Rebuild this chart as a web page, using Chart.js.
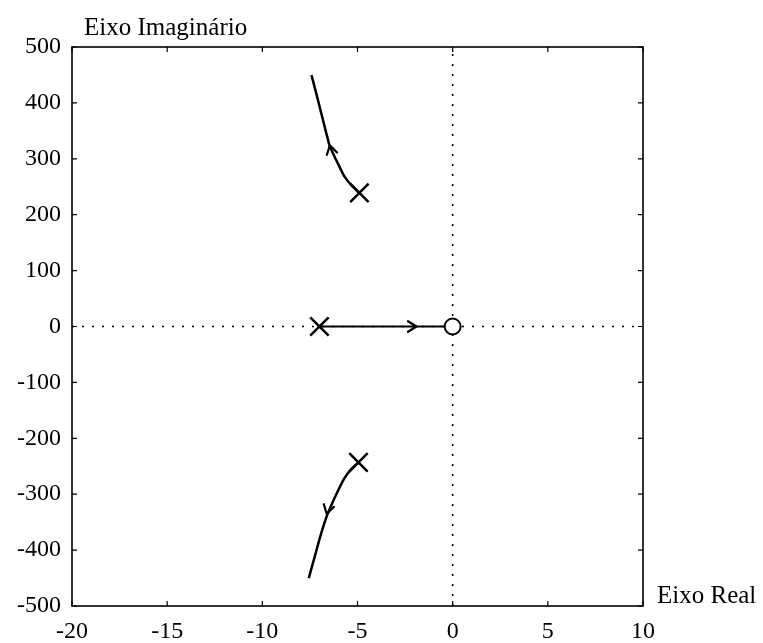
<!DOCTYPE html>
<html>
<head>
<meta charset="utf-8">
<script src="https://cdn.jsdelivr.net/npm/chart.js@4.4.0/dist/chart.umd.min.js"></script>
<style>
html,body{margin:0;padding:0;background:#fff;}
canvas{display:block;}
</style>
</head>
<body>
<canvas id="c" width="763" height="643"></canvas>
<script>
// ---- data ----
const xRange = [-20, 10];
const yRange = [-500, 500];
const xStep = 5;
const yStep = 100;

const upperX = [-4.9, -5.33, -5.68, -5.95, -6.21, -6.47, -6.78, -7.1, -7.42];
const upperY = [239, 253, 268, 286, 304, 324, 365, 408, 450];
const lowerX = [-4.95, -5.35, -5.7, -6.0, -6.3, -6.6, -6.95, -7.25, -7.56];
const lowerY = [-243, -256, -272, -292, -314, -338, -375, -412, -450];
const realX = [-7.0, 0];
const realY = [0, 0];
const polesX = [-4.9, -4.95, -7.0];
const polesY = [239, -243, 0];
const zerosX = [0];
const zerosY = [0];
// arrow heads: tip point and a point further along the direction
const arrowTipX = [-6.45, -6.62, -1.9];
const arrowTipY = [324, -335, 0];
const arrowDirX = [-6.6, -6.8, -1.0];
const arrowDirY = [345, -358, 0];

const xLabel = 'Eixo Real';
const yLabel = 'Eixo Imaginário';

const pts = (xs, ys) => xs.map((x, i) => ({x, y: ys[i]}));
const FONT = '"Liberation Serif", "Times New Roman", serif';

const decorPlugin = {
  id: 'decor',
  afterDatasetsDraw(chart) {
    const ctx = chart.ctx, a = chart.chartArea;
    const xs = chart.scales.x, ys = chart.scales.y;
    ctx.save();
    // box
    ctx.strokeStyle = '#000';
    ctx.lineWidth = 1.6;
    ctx.strokeRect(a.left, a.top, a.right - a.left, a.bottom - a.top);
    // inward ticks
    ctx.lineWidth = 1.2;
    const tl = 5;
    for (let v = xRange[0]; v <= xRange[1]; v += xStep) {
      const px = xs.getPixelForValue(v);
      ctx.beginPath();
      ctx.moveTo(px, a.bottom); ctx.lineTo(px, a.bottom - tl);
      ctx.moveTo(px, a.top); ctx.lineTo(px, a.top + tl);
      ctx.stroke();
    }
    for (let v = yRange[0]; v <= yRange[1]; v += yStep) {
      const py = ys.getPixelForValue(v);
      ctx.beginPath();
      ctx.moveTo(a.left, py); ctx.lineTo(a.left + tl, py);
      ctx.moveTo(a.right, py); ctx.lineTo(a.right - tl, py);
      ctx.stroke();
    }
    // arrow heads (open chevrons)
    ctx.lineWidth = 2.2;
    ctx.lineCap = 'round';
    ctx.lineJoin = 'round';
    for (let i = 0; i < arrowTipX.length; i++) {
      const tx = xs.getPixelForValue(arrowTipX[i]);
      const ty = ys.getPixelForValue(arrowTipY[i]);
      const dx = xs.getPixelForValue(arrowDirX[i]) - tx;
      const dy = ys.getPixelForValue(arrowDirY[i]) - ty;
      const ang = Math.atan2(dy, dx);
      const len = 10, spread = 0.55;
      ctx.beginPath();
      ctx.moveTo(tx - len * Math.cos(ang - spread), ty - len * Math.sin(ang - spread));
      ctx.lineTo(tx, ty);
      ctx.lineTo(tx - len * Math.cos(ang + spread), ty - len * Math.sin(ang + spread));
      ctx.stroke();
    }
    // axis titles
    ctx.fillStyle = '#000';
    ctx.font = '25px ' + FONT;
    ctx.textBaseline = 'alphabetic';
    ctx.textAlign = 'left';
    ctx.fillText(yLabel, a.left + 12, a.top - 12);
    ctx.fillText(xLabel, a.right + 14, a.bottom - 3);
    ctx.restore();
  }
};

new Chart(document.getElementById('c'), {
  type: 'scatter',
  data: {
    datasets: [
      { data: pts(zerosX, zerosY), order: 0, pointStyle: 'circle', pointRadius: 8, pointBorderWidth: 2,
        pointBackgroundColor: '#fff', pointBorderColor: '#000', showLine: false },
      { data: pts(polesX, polesY), order: 1, pointStyle: 'crossRot', pointRadius: 13, pointBorderWidth: 2.5,
        pointBorderColor: '#000', showLine: false },
      { data: pts(upperX, upperY), order: 2, showLine: true, borderColor: '#000', borderWidth: 2.5, pointRadius: 0, tension: 0.2 },
      { data: pts(lowerX, lowerY), order: 2, showLine: true, borderColor: '#000', borderWidth: 2.5, pointRadius: 0, tension: 0.2 },
      { data: pts(realX, realY), order: 3, showLine: true, borderColor: '#000', borderWidth: 2.2, pointRadius: 0 },
      { data: pts([0, 0], yRange), order: 10, showLine: true, borderColor: '#000', borderWidth: 1.6, borderDash: [2, 8], pointRadius: 0 },
      { data: pts(xRange, [0, 0]), order: 10, showLine: true, borderColor: '#000', borderWidth: 1.6, borderDash: [2, 8], pointRadius: 0 }
    ]
  },
  options: {
    responsive: false,
    animation: false,
    layout: { padding: { top: 47, right: 120, bottom: 0, left: 0 } },
    plugins: { legend: { display: false }, tooltip: { enabled: false } },
    scales: {
      x: {
        type: 'linear', min: xRange[0], max: xRange[1],
        grid: { display: false, drawTicks: false },
        border: { display: false },
        ticks: { stepSize: xStep, color: '#000', padding: 11, font: { family: FONT, size: 24 }, maxRotation: 0 },
        afterFit(s) { s.height = 37; }
      },
      y: {
        type: 'linear', min: yRange[0], max: yRange[1],
        grid: { display: false, drawTicks: false },
        border: { display: false },
        ticks: { stepSize: yStep, color: '#000', padding: 11, font: { family: FONT, size: 24 } },
        afterFit(s) { s.width = 72; }
      }
    }
  },
  plugins: [decorPlugin]
});
</script>
</body>
</html>
